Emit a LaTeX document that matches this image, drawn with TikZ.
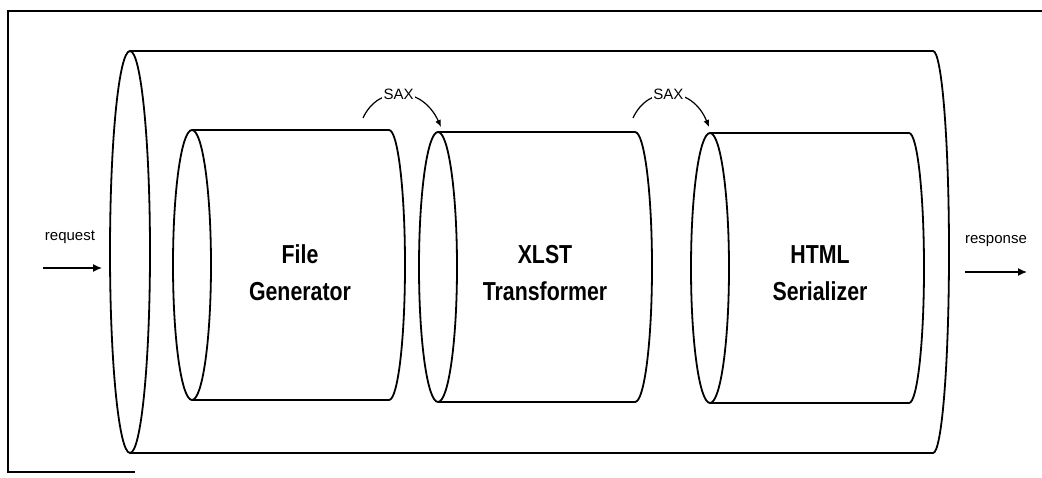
\documentclass[tikz,border=0pt]{standalone}
\usepackage{fontspec}
\setmainfont{Liberation Sans}
\newfontfamily\boxfont{Liberation Sans}[FakeStretch=0.82]
\usetikzlibrary{arrows.meta}
\tikzset{
  cylline/.style={line width=1.8pt},
  boxlabel/.style={font=\boxfont\bfseries\fontsize{26pt}{37pt}\selectfont, align=center, inner sep=0pt},
  smalllabel/.style={font=\fontsize{15pt}{17pt}\selectfont, inner sep=1pt},
  saxlabel/.style={font=\fontsize{15pt}{17pt}\selectfont, fill=white, inner sep=1.5pt},
  flowarrow/.style={line width=1.4pt, -{Latex[length=9pt,width=8pt]}},
  saxarrow/.style={line width=1.2pt, -{Latex[length=7pt,width=6pt]}}
}
\begin{document}
\begin{tikzpicture}[x=1pt,y=1pt]
\useasboundingbox (0,0) rectangle (1042,477);
% frame
\draw[line width=1.6pt] (1042,466) -- (8,466) -- (8,5) -- (135,5);
% big outer cylinder
\draw[cylline] (130,426) -- (933,426) arc[start angle=90,end angle=-90,x radius=16,y radius=201] -- (130,24);
\draw[cylline] (130,225) ellipse[x radius=20,y radius=201];
% cylinder 1
\draw[cylline] (192,347) -- (389,347) arc[start angle=90,end angle=-90,x radius=16,y radius=135] -- (192,77);
\draw[cylline] (192,212) ellipse[x radius=19,y radius=135];
% cylinder 2
\draw[cylline] (438,345) -- (635,345) arc[start angle=90,end angle=-90,x radius=17,y radius=135] -- (438,75);
\draw[cylline] (438,210) ellipse[x radius=19,y radius=135];
% cylinder 3
\draw[cylline] (710,344) -- (909,344) arc[start angle=90,end angle=-90,x radius=15,y radius=135] -- (710,74);
\draw[cylline] (710,209) ellipse[x radius=19,y radius=135];
% labels
\node[boxlabel] (fg) at (300,204) {File\\Generator};
\node[boxlabel] (xt) at (545,204) {XLST\\Transformer};
\node[boxlabel] (hs) at (820,204) {HTML\\Serializer};
% request / response
\node[smalllabel] (req) at (70,240) {request};
\coordinate (reqA) at (43,209);
\coordinate (reqB) at (102,209);
\draw[flowarrow] (reqA) -- (reqB);
\node[smalllabel] (resp) at (996,236) {response};
\coordinate (respA) at (965,205);
\coordinate (respB) at (1027,205);
\draw[flowarrow] (respA) -- (respB);
% SAX connectors
\coordinate (s1a) at (363,359);
\coordinate (s1b) at (441,350);
\draw[saxarrow] (s1a) .. controls (378,392) and (422,392) .. (s1b) node[saxlabel, pos=0.48] (sax1) {SAX};
\coordinate (s2a) at (633,359);
\coordinate (s2b) at (709,350);
\draw[saxarrow] (s2a) .. controls (648,392) and (692,392) .. (s2b) node[saxlabel, pos=0.48] (sax2) {SAX};
\end{tikzpicture}
\end{document}
